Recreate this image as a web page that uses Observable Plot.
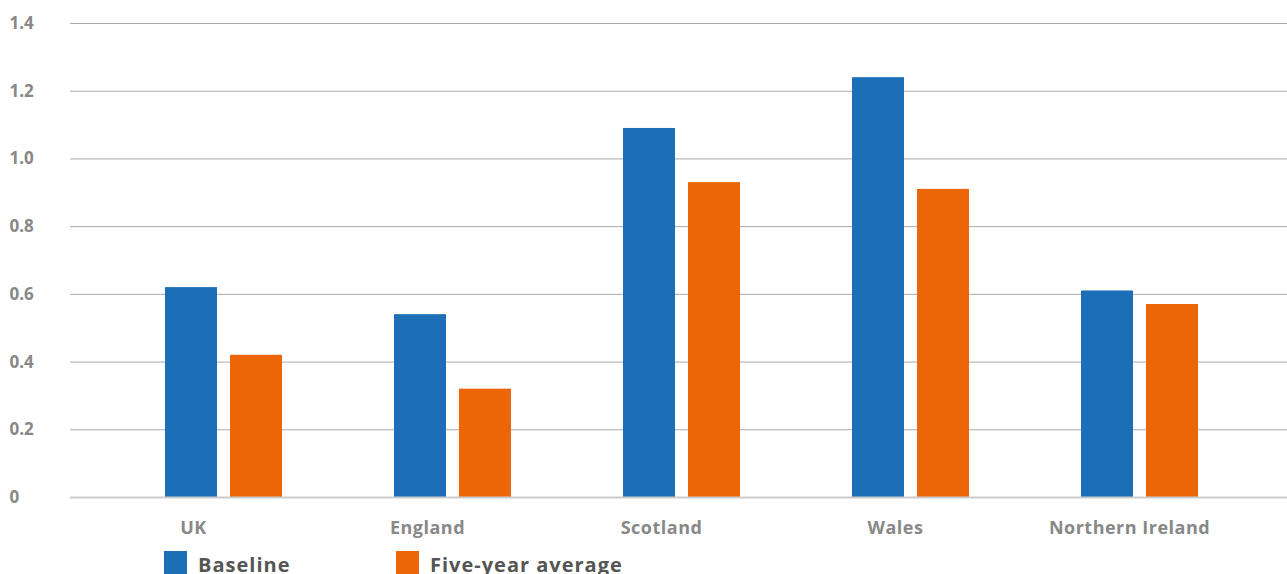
<!DOCTYPE html>
<html>
<head>
<meta charset="utf-8">
<script src="https://cdn.jsdelivr.net/npm/d3@7"></script>
<script src="https://cdn.jsdelivr.net/npm/@observablehq/plot@0.6"></script>
<style>
  body { margin: 0; background: #fff; font-family: "Open Sans", sans-serif; overflow: hidden; }
  #chart svg, #labels svg { display: block; }
  .legend { display: flex; align-items: flex-start; height: 29px; margin-top: 1px; padding-left: 164px; }
  .legend .item { display: flex; align-items: flex-start; }
  .legend .swatch { width: 23px; height: 30px; margin-right: 11px; }
  .legend .label { font-size: 20px; font-weight: 700; color: #555; line-height: 1; margin-top: 4px; letter-spacing: 1px; }
</style>
</head>
<body>
<div id="chart"></div>
<div id="labels"></div>
<div class="legend">
  <div class="item" style="width:232px"><div class="swatch" style="background:#1c6fb7"></div><div class="label">Baseline</div></div>
  <div class="item"><div class="swatch" style="background:#ec6608"></div><div class="label">Five-year average</div></div>
</div>
<script>
const countries = ["UK", "England", "Scotland", "Wales", "Northern Ireland"];
const baseline = [0.62, 0.54, 1.09, 1.24, 0.61];
const fiveYearAverage = [0.42, 0.32, 0.93, 0.91, 0.57];
const yTicks = [0, 0.2, 0.4, 0.6, 0.8, 1.0, 1.2, 1.4];
const tickLabels = ["0", "0.2", "0.4", "0.6", "0.8", "1.0", "1.2", "1.4"];

const rows = countries.map((c, i) => ({country: c, baseline: baseline[i], fiveYear: fiveYearAverage[i]}));

const blue = "#1c6fb7";
const orange = "#ec6608";
const bandW = 117;   // width of a country's pair of bars
const barW = 52;

const chart = Plot.plot({
  width: 1287,
  height: 510,
  marginTop: 23,
  marginBottom: 13,
  marginLeft: 70,
  marginRight: 0,
  style: {fontFamily: "'Open Sans', sans-serif", background: "#fff"},
  x: {domain: countries, paddingInner: 0.49, paddingOuter: 0.245, insetLeft: 37, insetRight: 31, label: null, axis: null},
  y: {domain: [0, 1.4], label: null},
  marks: [
    Plot.ruleY(yTicks.filter(d => d > 0), {stroke: "#aaa", strokeWidth: 1}),
    Plot.barY(rows, {x: "country", y: "baseline", fill: blue, insetRight: bandW - barW}),
    Plot.barY(rows, {x: "country", y: "fiveYear", fill: orange, insetLeft: bandW - barW}),
    Plot.ruleY([0], {stroke: "#ccc", strokeWidth: 2}),
    Plot.axisY({
      ticks: yTicks,
      tickFormat: d => tickLabels[yTicks.indexOf(d)],
      tickSize: 0,
      textAnchor: "start",
      dx: -52,
      fontSize: 17,
      fontWeight: 700,
      fill: "#888",
      label: null
    })
  ]
});
document.getElementById("chart").appendChild(chart);

// Category labels sit on their own evenly spaced band axis under the bars
const labels = Plot.plot({
  width: 1287,
  height: 40,
  marginTop: 0,
  marginBottom: 30,
  marginLeft: 75,
  marginRight: 40,
  style: {fontFamily: "'Open Sans', sans-serif", background: "#fff", letterSpacing: "0.5px"},
  x: {type: "band", domain: countries, padding: 0, label: null},
  marks: [
    Plot.axisX({
      anchor: "bottom",
      tickSize: 0,
      tickPadding: 1,
      fontSize: 18,
      fontWeight: 700,
      fill: "#888",
      label: null
    })
  ]
});
document.getElementById("labels").appendChild(labels);
</script>
</body>
</html>
